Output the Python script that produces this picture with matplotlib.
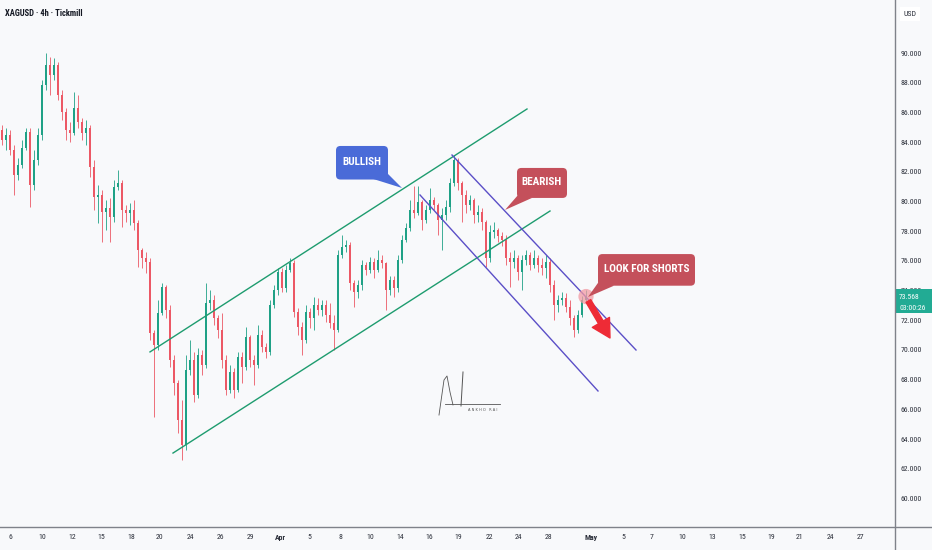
import matplotlib
matplotlib.use('Agg')
import matplotlib.pyplot as plt
from matplotlib import font_manager as fm
from matplotlib.patches import FancyBboxPatch, Polygon, Rectangle
from matplotlib.lines import Line2D
import numpy as np

# ---------------- data ----------------
open0 = 84.81
close = [84.15, 84.48, 83.47, 81.79, 82.47, 83.61, 84.69, 81.12, 82.80, 84.48,
         87.85, 89.20, 88.52, 89.20, 87.18, 86.03, 84.82, 84.62, 86.30, 85.36,
         84.62, 84.96, 82.33, 80.30, 80.45, 79.29, 79.56, 78.96, 80.98, 81.25,
         79.43, 79.23, 79.43, 78.55, 76.73, 76.20, 75.93, 71.15, 70.34, 72.49,
         74.24, 72.70, 69.33, 67.78, 65.29, 63.60, 68.66, 69.33, 66.97, 69.67,
         69.00, 73.17, 73.37, 72.16, 71.35, 69.33, 67.31, 68.52, 67.31, 69.53,
         68.86, 70.88, 69.33, 69.00, 71.01, 70.20, 69.87, 73.03, 74.04, 75.25,
         74.17, 75.39, 75.86, 72.56, 71.55, 70.68, 72.56, 72.16, 73.03, 72.70,
         73.03, 72.36, 71.82, 71.35, 76.40, 76.94, 77.07, 74.51, 73.90, 74.38,
         75.72, 75.39, 75.93, 75.39, 76.06, 75.86, 74.04, 74.71, 74.17, 76.06,
         77.41, 78.21, 79.43, 79.23, 79.97, 78.75, 79.43, 80.10, 79.76, 78.75,
         79.09, 79.63, 81.25, 82.80, 81.25, 80.45, 79.76, 80.10, 79.09, 79.29,
         78.62, 76.20, 77.94, 78.08, 77.67, 77.41, 76.20, 75.93, 76.20, 75.25,
         76.06, 76.40, 75.72, 76.20, 75.72, 75.52, 75.93, 74.38, 73.03, 73.37,
         73.50, 72.90, 72.16, 71.35, 72.36, 73.37, 73.568]
high = [85.16, 84.96, 84.82, 83.81, 82.94, 84.15, 84.96, 84.96, 83.47, 84.96,
        88.19, 90.00, 89.73, 89.67, 89.40, 87.51, 86.30, 85.36, 87.38, 87.18,
        85.63, 85.49, 85.16, 82.80, 81.12, 80.78, 80.10, 80.24, 81.45, 82.13,
        81.45, 79.76, 79.90, 80.10, 78.75, 76.87, 76.60, 76.20, 71.35, 73.37,
        74.51, 74.38, 73.03, 69.67, 67.99, 66.63, 69.67, 70.68, 69.87, 70.14,
        70.00, 74.51, 74.04, 73.70, 72.36, 72.49, 69.67, 68.99, 68.79, 69.87,
        69.87, 71.55, 71.01, 69.67, 71.69, 71.35, 70.47, 73.37, 74.38, 75.52,
        75.52, 75.72, 76.20, 76.06, 72.83, 71.89, 73.03, 72.83, 73.57, 73.50,
        73.37, 73.37, 73.17, 72.36, 76.73, 77.74, 77.41, 77.27, 74.71, 74.71,
        76.06, 75.93, 76.27, 76.20, 76.73, 76.40, 75.93, 74.98, 74.98, 76.40,
        77.74, 78.55, 80.10, 81.05, 81.05, 80.10, 79.76, 80.91, 80.30, 79.90,
        79.56, 80.10, 81.59, 83.14, 82.95, 81.40, 80.78, 80.45, 80.24, 79.76,
        79.56, 78.75, 78.42, 78.62, 78.21, 77.94, 77.74, 76.60, 76.73, 76.40,
        76.40, 76.73, 76.60, 76.73, 76.40, 76.20, 76.40, 76.20, 74.71, 73.70,
        73.90, 73.83, 73.37, 72.36, 72.70, 73.64, 74.04]
low = [83.81, 83.47, 83.14, 80.45, 81.45, 82.27, 83.47, 79.63, 80.78, 82.47,
       84.15, 87.51, 87.18, 88.19, 86.84, 85.49, 84.15, 84.01, 84.48, 84.96,
       84.15, 83.81, 81.65, 79.43, 78.55, 77.27, 78.08, 77.27, 78.62, 80.78,
       78.28, 78.62, 78.42, 78.08, 75.59, 75.52, 75.19, 70.68, 65.49, 70.00,
       72.36, 72.16, 68.86, 66.97, 64.41, 62.59, 63.27, 68.32, 66.50, 66.77,
       68.32, 68.79, 72.70, 71.69, 70.81, 68.79, 66.97, 67.10, 66.77, 67.18,
       67.78, 68.66, 68.86, 67.65, 68.79, 69.87, 69.47, 69.67, 72.83, 73.70,
       73.90, 73.90, 75.25, 72.23, 71.01, 69.67, 70.47, 71.49, 71.35, 72.36,
       72.29, 71.89, 71.49, 70.00, 71.22, 76.20, 76.60, 74.04, 72.90, 73.50,
       74.04, 75.05, 75.19, 74.85, 75.25, 75.52, 72.70, 73.70, 73.57, 73.90,
       75.86, 77.27, 78.01, 78.89, 79.09, 78.08, 78.55, 79.23, 79.43, 77.74,
       76.73, 78.75, 79.29, 81.05, 80.78, 78.62, 79.23, 79.43, 78.55, 78.62,
       78.08, 75.59, 75.90, 77.54, 77.27, 77.00, 75.72, 74.24, 75.52, 74.71,
       74.04, 75.72, 75.39, 75.52, 75.25, 75.05, 74.85, 73.90, 72.02, 72.56,
       73.03, 72.56, 71.69, 70.88, 71.15, 72.23, 73.17]

x_tick_pos = [2, 10, 17.5, 24.75, 32.25, 39.5, 47, 54.5, 62, 69.5, 76.75, 84.5,
              92, 99.5, 106.75, 114, 121.75, 129, 136.75, 147.25, 155.25, 162.5,
              170, 177.5, 185, 192.25, 199.5, 207, 214.75]
x_tick_labels = ['6', '10', '12', '15', '18', '20', '24', '26', '29', 'Apr', '5', '8',
                 '10', '14', '16', '19', '22', '24', '28', 'May', '5', '7', '10', '13',
                 '15', '19', '21', '24', '27']
y_ticks = list(range(60, 91, 2))

# drawn trend lines (index, price)
bull_upper = ([37.0, 131.25], [69.87, 86.23])
bull_lower = ([42.75, 137.0], [63.06, 79.36])
bear_upper = ([112.5, 158.5], [83.13, 70.00])
bear_lower = ([104.5, 149.0], [80.44, 67.24])

last_price = 73.568
countdown = '03:00:26'

# callouts: (x0, x1, y_bottom, y_top), tail triangle, text, colour, text width px
callouts = [
    ((83.5, 96.5, 81.48, 83.74), [(91.25, 81.65), (96.0, 81.99), (100.0, 80.91)],
     'BULLISH', '#4a6bd8', 39),
    ((128.75, 141.25, 80.24, 82.26), [(129.25, 80.51), (132.5, 80.24), (125.75, 79.43)],
     'BEARISH', '#c4505b', 42),
    ((149.0, 173.25, 74.33, 76.46), [(149.5, 74.71), (153.0, 74.33), (146.5, 73.57)],
     'LOOK FOR SHORTS', '#c4505b', 86),
]
marker_pt = (146.0, 73.60)
arrow_from = (146.6, 73.30)
arrow_to = (152.0, 70.81)

# ---------------- fonts ----------------
def find_font(keys):
    for k in keys:
        for f in fm.fontManager.ttflist:
            if k.lower() in f.fname.lower().replace(' ', ''):
                return fm.FontProperties(fname=f.fname)
    return None

COND_BOLD = find_font(['LiberationSansNarrow-Bold.', 'RobotoCondensed-Bold.',
                       'NotoSans-CondensedBold.', 'OpenSans-CondensedBold.',
                       'DejaVuSansCondensed-Bold.', 'Roboto-Bold.'])
COND_REG = find_font(['LiberationSansNarrow-Regular.', 'RobotoCondensed-Regular.',
                      'NotoSans-Condensed.', 'OpenSans-CondensedRegular.',
                      'DejaVuSansCondensed.', 'Roboto-Regular.'])
if COND_BOLD is None:
    COND_BOLD = fm.FontProperties(family='Liberation Sans', weight='bold')
if COND_REG is None:
    COND_REG = fm.FontProperties(family='Liberation Sans')

def fp(base, size):
    p = base.copy()
    p.set_size(size)
    return p

BG = '#f8f9fb'
UP = '#1fa186'
DOWN = '#ec5865'
AXC = '#7f828a'
TXT = '#2a2e39'

fig = plt.figure(figsize=(9.32, 5.5), dpi=100, facecolor=BG)
ax = fig.add_axes([0, 23 / 550, 895 / 932, 527 / 550])
ax.set_facecolor(BG)
ax.set_xlim(-0.5, 223.25)
ax.set_ylim(58.08, 93.57)

o = np.array([open0] + close[:-1])
c = np.array(close)
h = np.array(high)
l = np.array(low)
x = np.arange(len(c))
up = c >= o
cols = np.where(up, UP, DOWN)

ax.vlines(x, l, h, colors=cols, linewidth=0.6, zorder=2)
body_bot = np.minimum(o, c)
body_h = np.maximum(np.abs(c - o), 0.06)
ax.bar(x, body_h, bottom=body_bot, width=0.62, color=cols, linewidth=0, zorder=3)

# channels
ax.plot(*bull_upper, color='#1e9c6f', lw=1.0, zorder=4)
ax.plot(*bull_lower, color='#1e9c6f', lw=1.0, zorder=4)
ax.plot(*bear_upper, color='#5b4fc7', lw=1.0, zorder=4)
ax.plot(*bear_lower, color='#5b4fc7', lw=1.0, zorder=4)

fit_texts = []  # (text artist, target width px, max size)

# callouts
asp = (93.57 - 58.08) / 527 * (895 / 223.75)
for (x0, x1, y0, y1), tail, txt, col, tw in callouts:
    box = FancyBboxPatch((x0, y0), x1 - x0, y1 - y0,
                         boxstyle='round,pad=0,rounding_size=1.1',
                         mutation_aspect=asp, facecolor=col, edgecolor='none', zorder=6)
    ax.add_patch(box)
    ax.add_patch(Polygon(tail, closed=True, facecolor=col, edgecolor='none', zorder=6))
    t = ax.text((x0 + x1) / 2, (y0 + y1) / 2 + 0.03, txt, color='white',
                fontproperties=fp(COND_BOLD, 8.0), ha='center', va='center', zorder=7)
    fit_texts.append((t, tw, 8.0))

# marker and arrow
ax.scatter([marker_pt[0]], [marker_pt[1]], s=120, color='#f29aa3', alpha=0.75,
           edgecolors='none', zorder=5)
ax.annotate('', xy=arrow_to, xytext=arrow_from,
            arrowprops=dict(arrowstyle='simple,head_length=1.0,head_width=1.1,tail_width=0.3',
                            color='#ee2b36', mutation_scale=13, shrinkA=0, shrinkB=0),
            zorder=6)

# signature (decorative)
sig_x = [109.25, 110.5, 111.25, 112.0, 112.75]
sig_y = [65.62, 67.98, 68.25, 67.17, 66.30]
ax.plot(sig_x, sig_y, color='#555', lw=0.6, zorder=4)
ax.plot([110.75, 124.5], [66.36, 66.36], color='#555', lw=0.6, zorder=4)
ax.plot([115.25, 114.75], [68.52, 66.23], color='#555', lw=0.7, zorder=4)
ax.text(116.5, 65.95, 'A N K H O   R A I', fontsize=2.6, color='#555', va='center', zorder=4)

# axes
for s in ax.spines.values():
    s.set_visible(False)
ax.yaxis.tick_right()
ax.set_yticks(y_ticks)
ax.set_yticklabels([f'{v:.3f}' for v in y_ticks])
ax.tick_params(axis='y', length=0, pad=4.0, labelcolor=TXT)
ax.set_xticks(x_tick_pos)
ax.set_xticklabels(x_tick_labels)
ax.tick_params(axis='x', length=0, pad=5, labelcolor=TXT)

fig.add_artist(Line2D([895 / 932, 895 / 932], [0, 1], transform=fig.transFigure,
                      color=AXC, lw=1.0))
fig.add_artist(Line2D([0, 1], [23 / 550, 23 / 550], transform=fig.transFigure,
                      color=AXC, lw=1.0))

# last price label
ytr = ax.get_yaxis_transform()
ax.add_patch(Rectangle((1.0, last_price - 1.07), 37 / 895, 1.62, transform=ytr,
                       facecolor='#22ab94', edgecolor='none', clip_on=False, zorder=10))
p1 = ax.text(1.0045, last_price + 0.02, f'{last_price:.3f}', transform=ytr, color='white',
             fontproperties=fp(COND_REG, 6.3), ha='left', va='center', zorder=11, clip_on=False)
p2 = ax.text(1.0045, last_price - 0.72, countdown, transform=ytr, color='white',
             fontproperties=fp(COND_REG, 6.3), ha='left', va='center', zorder=11, clip_on=False)
fit_texts.append((p1, 21, 6.5))
fit_texts.append((p2, 27, 6.5))

usd = fig.text(910 / 932, 1 - 14 / 550, 'USD', ha='center', va='center', color=TXT,
               fontproperties=fp(COND_REG, 6.3),
               bbox=dict(facecolor='white', edgecolor='none', boxstyle='square,pad=0.5'))
title = fig.text(5 / 932, 1 - 13 / 550, 'XAGUSD · 4h · Tickmill', ha='left', va='center',
                 fontproperties=fp(COND_BOLD, 7.2), color='#131722')
fit_texts.append((title, 78, 7.5))

# fit font sizes of texts to the widths seen in the reference
fig.canvas.draw()
r = fig.canvas.get_renderer()
for t, tw, mx in fit_texts:
    w = t.get_window_extent(r).width
    t.set_fontsize(min(mx, t.get_fontsize() * tw / w))

# tick labels: size so that '90.000' is about 21 px wide
ylabs = ax.get_yticklabels()
for t in ylabs:
    t.set_fontproperties(fp(COND_REG, 6.3))
fig.canvas.draw()
w = ax.get_yticklabels()[0].get_window_extent(r).width
ysz = min(6.5, 6.3 * 21.5 / w)
for t in ax.get_yticklabels():
    t.set_fontproperties(fp(COND_REG, ysz))
for t in ax.get_xticklabels():
    if t.get_text() in ('Apr', 'May'):
        t.set_fontproperties(fp(COND_BOLD, ysz))
    else:
        t.set_fontproperties(fp(COND_REG, ysz))
usd.set_fontsize(ysz)

fig.savefig('out.png', dpi=100, facecolor=BG)
